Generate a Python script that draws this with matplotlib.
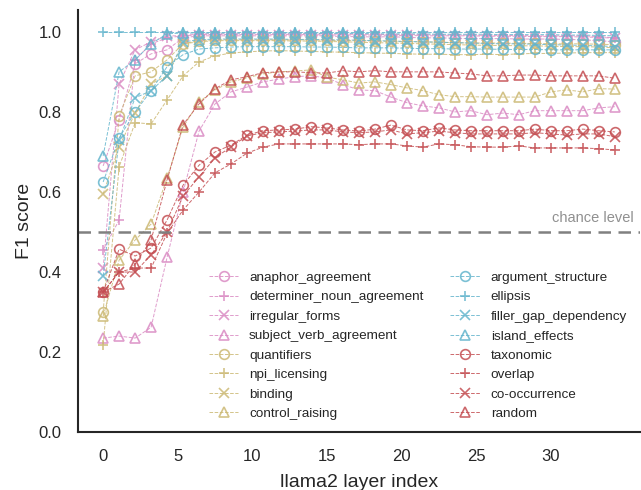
import numpy as np
import matplotlib
matplotlib.use('Agg')
import matplotlib.pyplot as plt
import seaborn as sns

sns.set_style('white')
plt.rcParams['font.family'] = ['Liberation Sans', 'DejaVu Sans']

layers = list(range(33))

# F1 per layer
anaphor_agreement = [0.665, 0.78, 0.92, 0.945, 0.955, 0.985, 0.99, 0.99, 0.99, 0.99, 0.99, 0.99, 0.99, 0.99, 0.99,
                     0.988, 0.988, 0.987, 0.988, 0.986, 0.985, 0.985, 0.984, 0.983, 0.983, 0.983, 0.982, 0.982,
                     0.982, 0.981, 0.98, 0.978, 0.975]
determiner_noun_agreement = [0.455, 0.53, 0.93, 0.97, 0.985, 0.99, 0.995, 0.995, 0.995, 0.995, 0.995, 0.995, 0.995,
                             0.995, 0.995, 0.994, 0.994, 0.994, 0.993, 0.993, 0.993, 0.992, 0.992, 0.992, 0.991,
                             0.991, 0.991, 0.99, 0.99, 0.99, 0.99, 0.988, 0.985]
irregular_forms = [0.41, 0.87, 0.955, 0.975, 0.99, 0.99, 0.993, 0.993, 0.993, 0.993, 0.993, 0.993, 0.993, 0.993,
                   0.992, 0.992, 0.992, 0.992, 0.991, 0.991, 0.99, 0.99, 0.99, 0.99, 0.989, 0.989, 0.989, 0.988,
                   0.988, 0.988, 0.987, 0.986, 0.984]
subject_verb_agreement = [0.235, 0.24, 0.235, 0.262, 0.437, 0.60, 0.752, 0.82, 0.85, 0.862, 0.875, 0.882, 0.888,
                          0.89, 0.885, 0.868, 0.855, 0.853, 0.837, 0.823, 0.815, 0.81, 0.80, 0.803, 0.793, 0.797,
                          0.793, 0.803, 0.803, 0.803, 0.803, 0.81, 0.813]
quantifiers = [0.30, 0.79, 0.89, 0.90, 0.93, 0.97, 0.978, 0.98, 0.98, 0.98, 0.98, 0.98, 0.98, 0.98, 0.979, 0.978,
               0.978, 0.977, 0.976, 0.975, 0.975, 0.974, 0.973, 0.972, 0.972, 0.972, 0.971, 0.971, 0.97, 0.97,
               0.97, 0.969, 0.968]
npi_licensing = [0.218, 0.663, 0.773, 0.77, 0.83, 0.89, 0.925, 0.94, 0.947, 0.95, 0.952, 0.953, 0.952, 0.951,
                 0.95, 0.949, 0.948, 0.947, 0.946, 0.945, 0.944, 0.944, 0.943, 0.943, 0.944, 0.943, 0.945, 0.946,
                 0.946, 0.947, 0.948, 0.948, 0.948]
binding = [0.595, 0.713, 0.797, 0.87, 0.89, 0.97, 0.975, 0.978, 0.978, 0.978, 0.978, 0.978, 0.977, 0.977, 0.976,
           0.975, 0.974, 0.973, 0.972, 0.971, 0.97, 0.969, 0.968, 0.967, 0.966, 0.966, 0.965, 0.965, 0.964,
           0.963, 0.963, 0.962, 0.96]
control_raising = [0.29, 0.43, 0.48, 0.52, 0.635, 0.762, 0.825, 0.855, 0.875, 0.885, 0.895, 0.9, 0.902, 0.905,
                   0.887, 0.88, 0.872, 0.875, 0.868, 0.86, 0.853, 0.843, 0.838, 0.838, 0.837, 0.837, 0.837, 0.837,
                   0.85, 0.855, 0.85, 0.858, 0.857]
argument_structure = [0.625, 0.735, 0.80, 0.853, 0.913, 0.943, 0.957, 0.96, 0.962, 0.963, 0.963, 0.963, 0.963,
                      0.962, 0.962, 0.961, 0.96, 0.96, 0.96, 0.959, 0.958, 0.958, 0.957, 0.957, 0.957, 0.956,
                      0.956, 0.956, 0.955, 0.955, 0.955, 0.955, 0.955]
ellipsis = [1.0] * 33
filler_gap_dependency = [0.39, 0.73, 0.835, 0.853, 0.89, 0.975, 0.98, 0.982, 0.982, 0.982, 0.982, 0.982, 0.981,
                         0.981, 0.98, 0.98, 0.979, 0.978, 0.977, 0.976, 0.975, 0.974, 0.973, 0.972, 0.971, 0.97,
                         0.97, 0.969, 0.968, 0.967, 0.966, 0.965, 0.963]
island_effects = [0.69, 0.90, 0.93, 0.97, 0.995, 0.997, 0.997, 0.997, 0.997, 0.997, 0.997, 0.997, 0.997, 0.996,
                  0.996, 0.996, 0.996, 0.995, 0.995, 0.995, 0.995, 0.994, 0.994, 0.994, 0.994, 0.993, 0.993,
                  0.993, 0.993, 0.992, 0.992, 0.991, 0.99]
taxonomic = [0.35, 0.457, 0.44, 0.46, 0.53, 0.617, 0.667, 0.70, 0.717, 0.742, 0.753, 0.755, 0.757, 0.763, 0.76,
             0.755, 0.752, 0.757, 0.767, 0.755, 0.753, 0.76, 0.755, 0.753, 0.753, 0.753, 0.753, 0.757, 0.753,
             0.753, 0.757, 0.753, 0.75]
overlap = [0.35, 0.40, 0.41, 0.41, 0.497, 0.555, 0.60, 0.648, 0.67, 0.697, 0.712, 0.72, 0.72, 0.72, 0.72, 0.72,
           0.718, 0.72, 0.72, 0.715, 0.712, 0.72, 0.718, 0.713, 0.712, 0.712, 0.715, 0.71, 0.71, 0.71, 0.71,
           0.708, 0.705]
co_occurrence = [0.35, 0.40, 0.40, 0.443, 0.50, 0.59, 0.638, 0.685, 0.713, 0.74, 0.748, 0.75, 0.752, 0.755, 0.755,
                 0.75, 0.748, 0.75, 0.755, 0.745, 0.748, 0.752, 0.748, 0.745, 0.745, 0.745, 0.745, 0.748, 0.745,
                 0.742, 0.745, 0.745, 0.738]
random_ = [0.35, 0.37, 0.42, 0.48, 0.63, 0.768, 0.82, 0.858, 0.88, 0.888, 0.898, 0.9, 0.9, 0.898, 0.897, 0.903,
           0.90, 0.903, 0.90, 0.90, 0.90, 0.90, 0.897, 0.895, 0.89, 0.89, 0.892, 0.892, 0.89, 0.89, 0.89, 0.89,
           0.884]

series = [
    ('anaphor_agreement', anaphor_agreement),
    ('determiner_noun_agreement', determiner_noun_agreement),
    ('irregular_forms', irregular_forms),
    ('subject_verb_agreement', subject_verb_agreement),
    ('quantifiers', quantifiers),
    ('npi_licensing', npi_licensing),
    ('binding', binding),
    ('control_raising', control_raising),
    ('argument_structure', argument_structure),
    ('ellipsis', ellipsis),
    ('filler_gap_dependency', filler_gap_dependency),
    ('island_effects', island_effects),
    ('taxonomic', taxonomic),
    ('overlap', overlap),
    ('co-occurrence', co_occurrence),
    ('random', random_),
]
tick_labels = [0, 5, 10, 15, 20, 25, 30]

colors = ['#DA8BC3', '#CCB974', '#64B5CD', '#C44E52']
markers = ['o', '+', 'x', '^']

fig = plt.figure(figsize=(6.41, 4.9), dpi=100)
ax = fig.add_axes([0.122, 0.118, 0.877, 0.862])

for i, (name, vals) in enumerate(series):
    c = colors[i // 4]
    ax.plot(layers, vals, linestyle='--', linewidth=0.7, color=c, marker=markers[i % 4],
            markersize=7, markerfacecolor='none', markeredgecolor=c, markeredgewidth=1.2,
            alpha=0.85, label=name)

ax.axhline(0.5, color='#808080', linestyle='--', linewidth=1.8, dashes=(5, 3))
ax.text(33.2, 0.518, 'chance level', color='#909090', fontsize=10.5, ha='right', va='bottom')

ax.set_xlim(-1.56, 33.6)
ax.set_ylim(0, 1.055)
ax.set_xticks([t * 14 / 15 for t in tick_labels])
ax.set_xticklabels([str(t) for t in tick_labels])
ax.set_yticks([0, 0.2, 0.4, 0.6, 0.8, 1.0])
ax.tick_params(labelsize=12, colors='#262626', pad=8.5)
ax.set_xlabel('llama2 layer index', fontsize=14, labelpad=7)
ax.set_ylabel('F1 score', fontsize=14)
sns.despine(ax=ax)
for s in ['left', 'bottom']:
    ax.spines[s].set_color('#262626')
    ax.spines[s].set_linewidth(1.5)

ax.legend(ncol=2, loc='lower right', bbox_to_anchor=(0.998, 0.0), frameon=False,
          fontsize=9.7, labelspacing=0.52, columnspacing=2.0, handlelength=2.2)

fig.savefig('out.png', dpi=100)
